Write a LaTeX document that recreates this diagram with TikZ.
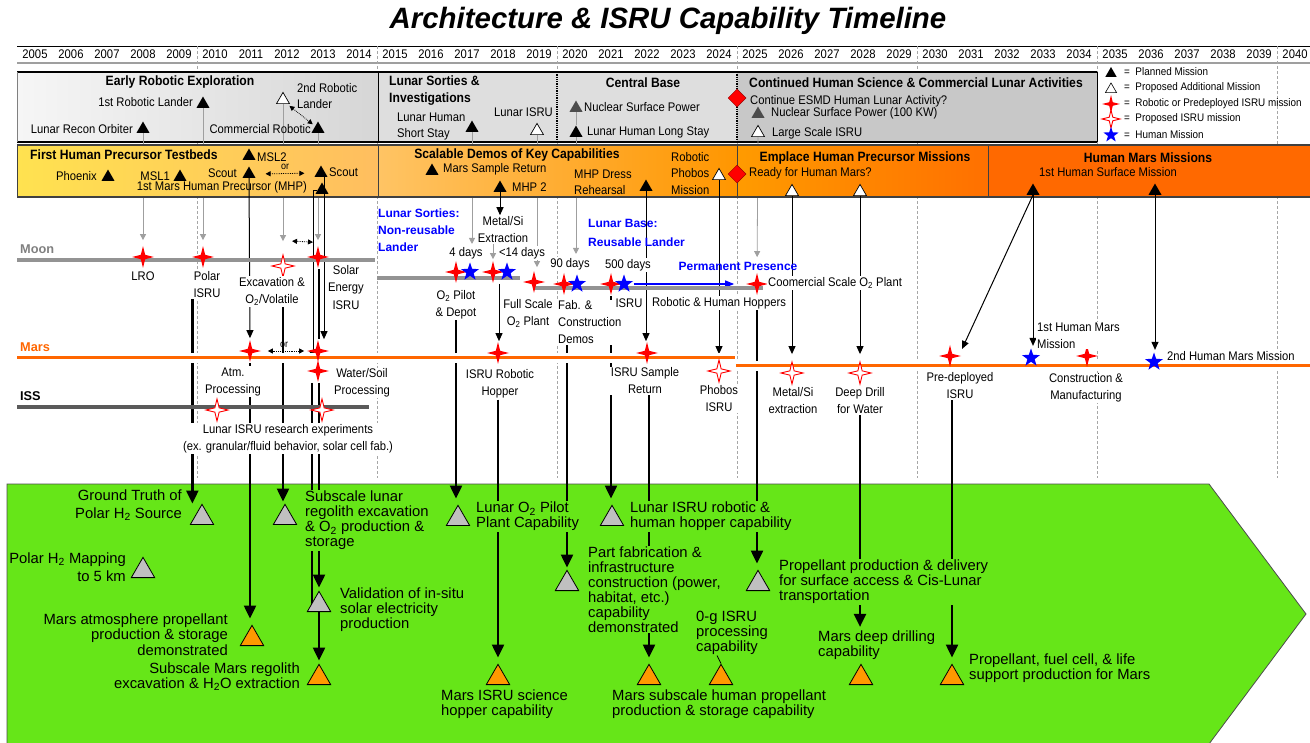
\documentclass[tikz,border=0pt]{standalone}
\usepackage{fontspec}
\setmainfont{Liberation Sans}
\newfontfamily\nar[FakeStretch=0.9]{Liberation Sans}
\usetikzlibrary{shapes.geometric,arrows.meta,calc}

\definecolor{grnfill}{RGB}{102,230,24}
\definecolor{trigray}{RGB}{192,192,192}
\definecolor{triorange}{RGB}{255,153,0}
\definecolor{marsc}{RGB}{255,102,0}
\definecolor{moonc}{RGB}{128,128,128}
\definecolor{issc}{RGB}{90,90,90}
\definecolor{humblue}{RGB}{0,0,255}
\definecolor{bandA1}{RGB}{255,226,80}
\definecolor{bandA2}{RGB}{255,190,95}
\definecolor{bandB1}{RGB}{255,196,100}
\definecolor{bandB2}{RGB}{255,150,0}
\definecolor{bandC1}{RGB}{255,155,0}
\definecolor{bandC2}{RGB}{255,112,0}
\definecolor{bandD}{RGB}{255,105,0}
\definecolor{boxA1}{RGB}{246,246,246}
\definecolor{boxA2}{RGB}{214,214,214}
\definecolor{boxB}{RGB}{222,222,222}
\definecolor{boxC}{RGB}{200,200,200}

\newcommand\fsz[2]{\fontsize{#1}{#2}\selectfont}

\pgfdeclarelayer{back}
\pgfdeclarelayer{glines}
\pgfdeclarelayer{band}
\pgfdeclarelayer{conn}
\pgfdeclarelayer{tracks}
\pgfsetlayers{back,glines,band,conn,tracks,main}

\begin{document}
\begin{tikzpicture}[x=1pt,y=-1pt,
  yr/.style={font=\nar\fsz{12.5}{13}, inner sep=0pt},
  gridline/.style={gray!70, densely dashed, line width=0.6pt},
  bandttl/.style={font=\nar\bfseries\fsz{13.5}{17}, inner sep=0pt, align=left},
  bandtxt/.style={font=\nar\fsz{12.5}{16}, inner sep=0pt, align=left},
  midtxt/.style={font=\nar\fsz{12.5}{17}, fill=white, inner sep=1pt, align=center},
  bluetxt/.style={font=\bfseries\fsz{12}{17}, text=humblue, inner sep=0pt, align=left},
  keytxt/.style={font=\nar\fsz{11}{12}, inner sep=0pt, anchor=west},
  grntxt/.style={font=\fsz{14.8}{15}, fill=grnfill, inner sep=1pt, align=left},
  trackttl/.style={font=\bfseries\fsz{12.75}{13}, inner sep=0pt, anchor=west},
  mtri/.style={regular polygon, regular polygon sides=3, fill=black, inner sep=0pt, minimum size=15pt, anchor=south},
  htri/.style={mtri, fill=white, draw=black, line width=0.7pt},
  dtri/.style={mtri, fill=black!70},
  gtri/.style={regular polygon, regular polygon sides=3, inner sep=0pt, minimum size=27pt, anchor=south, draw=black, line width=0.8pt, fill=trigray},
  otri/.style={gtri, fill=triorange},
  rstar/.style={star, star points=4, star point ratio=3.6, minimum size=22pt, inner sep=0pt, fill=red},
  hstar/.style={rstar, fill=white, draw=red, line width=0.9pt},
  bstar/.style={star, star points=5, star point ratio=2.5, minimum size=19pt, inner sep=0pt, fill=humblue},
  redd/.style={diamond, fill=red, draw=red!60!black, line width=0.5pt, minimum size=18pt, inner sep=0pt},
  grline/.style={draw=gray!75, line width=0.8pt},
  grarr/.style={grline, -{Triangle[length=6pt,width=6pt]}},
  blarr/.style={draw=black, line width=1pt, -{Triangle[length=8pt,width=7pt]}},
  thk/.style={draw=black, line width=2.3pt},
  thkarr/.style={thk, -{Triangle[length=13pt,width=12pt]}},
  dblarr/.style={draw=black, densely dotted, line width=0.8pt, {Triangle[length=5pt,width=5pt]}-{Triangle[length=5pt,width=5pt]}},
]
\useasboundingbox (0,0) rectangle (1310,743);

% ---------------- title and year scale
\node[font=\bfseries\itshape\fsz{29.4}{30}] (title) at (668,21) {Architecture \& ISRU Capability Timeline};
\foreach \i in {0,...,35}{
  \pgfmathtruncatemacro\yy{2005+\i}
  \node[yr] (y\yy) at ({35+36*\i},54) {\yy};
}
\begin{pgfonlayer}{back}
  \draw[line width=0.6pt] (17,46) -- (1310,46);
  \draw[gray!75, line width=2.5pt] (17,63) -- (1310,63);
  \foreach \gx in {197,377,557,737,917,1097,1277}
    \draw[gridline] (\gx,46) -- (\gx,478);
  % upper band: exploration phases
  \shade[left color=boxA1, right color=boxA2] (17,72) rectangle (378,142);
  \fill[boxB] (378,72) rectangle (737,142);
  \fill[boxC] (737,72) rectangle (1097,142);
  \draw[line width=1.3pt] (17,72) -- (1097,72) (17,142) -- (1097,142);
  \draw[line width=0.8pt] (1097,72) -- (1097,142);
  \draw[gray, line width=0.6pt] (17,72) -- (17,142);
  \draw[line width=1pt] (378,72) -- (378,142);
  \draw[densely dotted, line width=1.3pt] (557,72) -- (557,142) (737,72) -- (737,142);
  % capability region
  \draw[black!70, line width=0.8pt, fill=grnfill] (7,484) -- (1209,484) -- (1306,614) -- (1209,744) -- (7,744) -- cycle;
\end{pgfonlayer}

% ---------------- lower band: Mars precursor phases
\begin{pgfonlayer}{band}
  \shade[left color=bandA1, right color=bandA2] (17,145) rectangle (378,197);
  \shade[left color=bandB1, right color=bandB2] (378,145) rectangle (737,197);
  \shade[left color=bandC1, right color=bandC2] (737,145) rectangle (988,197);
  \fill[bandD] (988,145) rectangle (1310,197);
  \draw[gray!50!black, line width=1.1pt] (17,145) -- (1310,145) (17,197) -- (1310,197);
  \draw[gray!50!black, line width=0.8pt] (17,145) -- (17,197) (378,145) -- (378,197) (737,145) -- (737,197) (988,145) -- (988,197);
\end{pgfonlayer}

% ---------------- upper band contents
\node[bandttl] (ttlera) at (180,82) {Early Robotic Exploration};
\node[mtri] (trl1) at (203,108) {};
\node[bandtxt, anchor=east] (lrl1) at (193,102) {1st Robotic Lander};
\node[mtri] (tlro) at (143,133) {};
\node[bandtxt, anchor=east] (llro) at (133,129) {Lunar Recon Orbiter};
\node[htri] (trl2) at (283,104) {};
\node[bandtxt, anchor=west] (lrl2) at (297,96) {2nd Robotic\\Lander};
\node[mtri] (tcom) at (318,133) {};
\node[bandtxt, anchor=east] (lcom) at (311,129) {Commercial Robotic};

\node[bandttl, anchor=west] (ttlsort) at (389,90.5) {Lunar Sorties \&\\Investigations};
\node[bandtxt, anchor=west] (lss) at (397,126) {Lunar Human\\Short Stay};
\node[mtri] (tss) at (472,132) {};
\node[bandtxt, anchor=east] (llisru) at (553,112) {Lunar ISRU};
\node[htri] (tlisru) at (537,135) {};
\node[bandttl] (ttlcb) at (643,83) {Central Base};
\node[dtri] (tnsp) at (576,112) {};
\node[bandtxt, anchor=west] (lnsp) at (584,107) {Nuclear Surface Power};
\node[mtri] (tls) at (576,137) {};
\node[bandtxt, anchor=west] (lls) at (587,132) {Lunar Human Long Stay};
\node[redd] (dmoon) at (737,98) {};

\node[bandttl] (ttlcont) at (916,83) {Continued Human Science \& Commercial Lunar Activities};
\node[bandtxt, anchor=west] (lesmd) at (750,101) {Continue ESMD Human Lunar Activity?};
\node[dtri] (tnsp2) at (758,118) {};
\node[bandtxt, anchor=west] (lnsp2) at (771,113) {Nuclear Surface Power (100 KW)};
\node[htri] (tlsi) at (758,137) {};
\node[bandtxt, anchor=west] (llsi) at (772,133) {Large Scale ISRU};

% key
\node[mtri, minimum size=13pt] (k1) at (1111,77) {};
\node[keytxt] (kt1) at (1124,72) {=\ \ Planned Mission};
\node[htri, minimum size=13pt, line width=0.6pt] (k2) at (1111,93) {};
\node[keytxt] (kt2) at (1124,88) {=\ \ Proposed Additional Mission};
\node[rstar, minimum size=18pt] (k3) at (1111,104) {};
\node[keytxt] (kt3) at (1124,104) {=\ \ Robotic or Predeployed ISRU mission};
\node[hstar, minimum size=18pt] (k4) at (1111,119) {};
\node[keytxt] (kt4) at (1124,119) {=\ \ Proposed ISRU mission};
\node[bstar, minimum size=16pt] (k5) at (1111,135) {};
\node[keytxt] (kt5) at (1124,135) {=\ \ Human Mission};

% ---------------- lower band contents
\node[bandttl, anchor=west] (ttlfhp) at (30,155) {First Human Precursor Testbeds};
\node[mtri] (tmsl2) at (249,160) {};
\node[bandtxt, anchor=west] (lmsl2) at (257,157) {MSL2};
\node[bandtxt, anchor=east] (lphx) at (97,176) {Phoenix};
\node[mtri] (tphx) at (108,181) {};
\node[bandtxt, anchor=east] (lmsl1) at (170,176) {MSL1};
\node[mtri] (tmsl1) at (180,181) {};
\node[bandtxt, anchor=east] (lsc1) at (237,173) {Scout};
\node[mtri] (tsc1) at (249,178) {};
\node[mtri] (tsc2) at (321,177) {};
\node[bandtxt, anchor=west] (lsc2) at (329,172) {Scout};
\node[bandtxt, anchor=east] (lmhp) at (307,187) {1st Mars Human Precursor (MHP)};
\node[mtri] (tmhp) at (322,194) {};
\node[font=\nar\fsz{10}{10}, inner sep=0pt] (lor1) at (285,167) {or};
\draw[dblarr, shorten <=12pt, shorten >=12pt] (tsc1.east) -- (tsc2.west);

\node[bandttl] (ttlsdk) at (517,155) {Scalable Demos of Key Capabilities};
\node[mtri] (tmsr) at (432,175) {};
\node[bandtxt, anchor=west] (lmsr) at (443,169) {Mars Sample Return};
\node[mtri] (tmhp2) at (500,192) {};
\node[bandtxt, anchor=west] (lmhp2) at (512,187) {MHP 2};
\node[bandtxt, anchor=west] (lmdr) at (574,182) {MHP Dress\\Rehearsal};
\node[mtri] (tmdr) at (646,191) {};
\node[bandtxt, anchor=west, font=\nar\fsz{12.5}{16.5}] (lphm) at (671,173.5) {Robotic\\Phobos\\Mission};
\node[htri] (tphm) at (719,180) {};
\node[redd] (dmars) at (737,174) {};

\node[bandttl] (ttlemp) at (865,158) {Emplace Human Precursor Missions};
\node[bandtxt, anchor=west] (lrhm) at (749,173) {Ready for Human Mars?};
\node[htri] (tem1) at (792,196) {};
\node[htri] (tem2) at (860,196) {};
\node[bandttl] (ttlhmm) at (1148,158) {Human Mars Missions};
\node[bandtxt] (lhsm) at (1108,172) {1st Human Surface Mission};
\node[mtri] (thm1) at (1033,195) {};
\node[mtri] (thm2) at (1155,195) {};

% ---------------- destinations: Moon, Mars, ISS
\node[trackttl, text=moonc] (lmoon) at (20,249) {Moon};
\node[trackttl, text=marsc] (lmars) at (20,347) {Mars};
\node[trackttl, text=black] (liss) at (20,396) {ISS};

\node[rstar] (slro) at (143,257) {};
\node[rstar] (spol) at (203,257) {};
\node[hstar] (sexc) at (283,266) {};
\node[rstar] (ssol) at (318,257) {};
\node[rstar] (satm) at (250,351) {};
\node[rstar] (swat1) at (318,351) {};
\node[rstar] (swat2) at (318,371) {};
\node[hstar] (siss1) at (217,410) {};
\node[hstar] (siss2) at (322,410) {};

\node[midtxt] (llro2) at (143,276) {LRO};
\node[midtxt] (lpol) at (207,284.5) {Polar\\ISRU};
\node[midtxt] (lexc) at (272,291.5) {Excavation \&\\O\textsubscript{2}/Volatile};
\node[midtxt, font=\nar\fsz{12.5}{17.5}] (lsol) at (346,287.5) {Solar\\Energy\\ISRU};
\node[midtxt] (latm) at (233,381.5) {Atm.\\Processing};
\node[midtxt] (lwat) at (362,383) {Water/Soil\\Processing};
\node[midtxt] (liss2) at (288,438.5) {Lunar ISRU research experiments\\(ex. granular/fluid behavior, solar cell fab.)};
\node[font=\nar\fsz{10}{10}, inner sep=0pt] (lor2) at (284,345) {or};

\node[bluetxt, anchor=west] (lsortie) at (378,230) {Lunar Sorties:\\Non-reusable\\Lander};
\node[midtxt] (lmetal) at (503,229.5) {Metal/Si\\Extraction};
\node[midtxt] (l4d) at (466,253) {4 days};
\node[midtxt] (l14d) at (522,253) {<14 days};
\node[rstar] (s4a) at (456,272) {};
\node[bstar] (s4b) at (470,272) {};
\node[rstar] (s14a) at (493,272) {};
\node[bstar] (s14b) at (507,272) {};
\node[rstar] (sfsp) at (534,282) {};
\node[midtxt] (l90d) at (570,264) {90 days};
\node[rstar] (s90a) at (564,284) {};
\node[bstar] (s90b) at (577,284) {};
\node[midtxt] (l500d) at (628,265) {500 days};
\node[rstar] (s500a) at (611,284) {};
\node[bstar] (s500b) at (624,284) {};
\node[bluetxt, anchor=west, font=\bfseries\fsz{12}{19}] (lbase) at (588,232.5) {Lunar Base:\\Reusable Lander};
\node[bluetxt] (lperm) at (738,266) {Permanent Presence};
\node[rstar] (scom) at (757,284) {};
\node[midtxt, anchor=west] (lcom2) at (767,283) {Coomercial Scale O\textsubscript{2} Plant};
\node[midtxt] (lo2p) at (456,304.5) {O\textsubscript{2} Pilot\\\& Depot};
\node[midtxt] (lfsp) at (528,313.5) {Full Scale\\O\textsubscript{2} Plant};
\node[midtxt, align=left, anchor=west] (lfab) at (557,322.5) {Fab. \&\\Construction\\Demos};
\node[midtxt] (lisru5) at (629,303) {ISRU};
\node[midtxt] (lhop) at (719,303) {Robotic \& Human Hoppers};
\node[rstar] (shop) at (498,353) {};
\node[rstar] (smsr) at (647,353) {};
\node[hstar] (sphb) at (719,371) {};
\node[midtxt] (lhop2) at (500,384) {ISRU Robotic\\Hopper};
\node[midtxt] (lmsr2) at (645,381) {ISRU Sample\\Return};
\node[midtxt] (lphb) at (719,399) {Phobos\\ISRU};

\node[hstar] (smet) at (792,373) {};
\node[hstar] (sddw) at (860,373) {};
\node[rstar] (spre) at (950,356) {};
\node[bstar] (sh1) at (1031,358) {};
\node[rstar] (scm) at (1087,356) {};
\node[bstar] (sh2) at (1154,362) {};
\node[midtxt] (lmet) at (793,400.5) {Metal/Si\\extraction};
\node[midtxt] (lddw) at (860,400.5) {Deep Drill\\for Water};
\node[midtxt] (lpre) at (960,385.5) {Pre-deployed\\ISRU};
\node[midtxt, align=left, anchor=west] (lh1) at (1036,335.5) {1st Human Mars\\Mission};
\node[midtxt] (lcm) at (1086,388) {Construction \&\\Manufacturing};
\node[midtxt, anchor=west] (lh2) at (1166,356) {2nd Human Mars Mission};
\coordinate (pretip) at (962,349);

% ---------------- capabilities
\node[gtri] (gt1) at (202,525) {};
\node[gtri] (gt2) at (143,578) {};
\node[gtri] (gt3) at (285,525) {};
\node[gtri] (gt4) at (319,612) {};
\node[gtri] (gt5) at (458,526) {};
\node[gtri] (gt6) at (567,591) {};
\node[gtri] (gt7) at (612,526) {};
\node[gtri] (gt8) at (758,591) {};
\node[otri] (ot1) at (252,646) {};
\node[otri] (ot2) at (319,685) {};
\node[otri] (ot3) at (498,685) {};
\node[otri] (ot4) at (649,685) {};
\node[otri] (ot5) at (721,685) {};
\node[otri] (ot6) at (861,685) {};
\node[otri] (ot7) at (952,685) {};

\node[grntxt, align=right, anchor=east, font=\fsz{14.8}{18}] (g1) at (183,505) {Ground Truth of\\Polar H\textsubscript{2} Source};
\node[grntxt, align=right, anchor=east, font=\fsz{14.8}{18}] (g2) at (127,567) {Polar H\textsubscript{2} Mapping\\to 5 km};
\node[grntxt, anchor=west] (g3) at (304,520.5) {Subscale lunar\\regolith excavation\\\& O\textsubscript{2} production \&\\storage};
\node[grntxt, anchor=west] (g4) at (339,610) {Validation of in-situ\\solar electricity\\production};
\node[grntxt, align=right, anchor=east, font=\fsz{14.8}{15.5}] (g5) at (229,634.5) {Mars atmosphere propellant\\production \& storage\\demonstrated};
\node[grntxt, align=right, anchor=east] (g6) at (301,676.5) {Subscale Mars regolith\\excavation \& H\textsubscript{2}O extraction};
\node[grntxt, anchor=west] (g7) at (475,516.5) {Lunar O\textsubscript{2} Pilot\\Plant Capability};
\node[grntxt, anchor=west] (g8) at (440,704.5) {Mars ISRU science\\hopper capability};
\node[grntxt, anchor=west] (g9) at (587,589.5) {Part fabrication \&\\infrastructure\\construction (power,\\habitat, etc.)\\capability\\demonstrated};
\node[grntxt, anchor=west] (g10) at (629,516.5) {Lunar ISRU robotic \&\\human hopper capability};
\node[grntxt, anchor=west] (g11) at (778,582) {Propellant production \& delivery\\for surface access \& Cis-Lunar\\transportation};
\node[grntxt, anchor=west] (g12) at (695,632.5) {0-g ISRU\\processing\\capability};
\node[grntxt, anchor=west] (g13) at (611,704.5) {Mars subscale human propellant\\production \& storage capability};
\node[grntxt, anchor=west] (g14) at (817,645.5) {Mars deep drilling\\capability};
\node[grntxt, anchor=west] (g15) at (968,668) {Propellant, fuel cell, \& life\\support production for Mars};

% ---------------- grey links from the upper band
\begin{pgfonlayer}{glines}
  \draw[grarr, shorten >=5pt] (tlro.south) -- (slro.north);
  \draw[grarr, shorten >=5pt] (trl1.south) -- (spol.north);
  \draw[grarr, shorten >=12pt] (trl2.south) -- (sexc.north);
  \draw[grarr, shorten >=5pt] (tcom.south) -- (ssol.north);
  \draw[grarr, shorten >=2pt] (tss.south) -- (tss.south |- l4d.north);
  \draw[grarr, shorten >=3pt] (tlisru.south) -- (tlisru.south |- sfsp.north);
  \draw[grline] (tnsp.south) -- (tls.north);
  \draw[grarr, shorten >=3pt] (tls.south) -- (tls.south |- l90d.north);
  \draw[grarr, shorten >=15pt] (tlsi.south) -- (scom.north);
  \draw[grarr, shorten >=1pt] ([xshift=-10pt]lmetal.south) -- ([xshift=-10pt]lmetal.south |- s14a.north);
\end{pgfonlayer}

% ---------------- mission links and capability links
\begin{pgfonlayer}{conn}
  \draw[blarr, shorten >=1pt] (tsc1.south) -- (satm.north);
  \draw[blarr] ([xshift=3pt]tsc2.south) -- ([xshift=3pt]tsc2.south |- swat1.north);
  \draw[blarr] (tmhp.west) -| ([xshift=-5pt]swat2.north);
  \draw[thk] ([xshift=1pt]ssol.south) -- ([xshift=1pt]ssol.south |- swat1.north);
  \draw[blarr] (tmhp2.south) -- (tmhp2.south |- lmetal.north);
  \draw[blarr] ([xshift=6pt]s14a.south) -- ([xshift=6pt]s14a.south |- shop.north);
  \draw[blarr] (tmdr.south) -- (tmdr.south |- smsr.north);
  \draw[blarr, shorten >=4pt] (tphm.south) -- (tphm.south |- sphb.north);
  \draw[blarr, shorten >=6pt] (tem1.south) -- (smet.north);
  \draw[blarr, shorten >=6pt] (tem2.south) -- (sddw.north);
  \draw[blarr] (thm1.south) -- (pretip);
  \draw[blarr, shorten >=2pt] (thm1.south) -- (thm1.south |- sh1.north);
  \draw[blarr, shorten >=2pt] (thm2.south) -- (thm2.south |- sh2.north);
  \draw[humblue, line width=1.3pt, -{Triangle[length=9pt,width=7pt]}, shorten <=4pt, shorten >=11pt] (s500b.east) -- (scom.west);

  \draw[thkarr] (lpol.south west) -- (lpol.south west |- gt1.north);
  \draw[thkarr, shorten >=6pt] (satm.south) -- (satm.south |- ot1.north);
  \draw[thkarr, shorten >=2pt] (lexc.south -| sexc.center) -- (gt3.north -| sexc.center);
  \draw[line width=1.4pt] ([xshift=-6pt]swat2.south) -- ([xshift=-6pt]swat2.south |- gt4.west);
  \draw[thkarr, shorten >=3pt] (gt4.north |- swat2.south) -- (gt4.north);
  \draw[thkarr, shorten >=3pt] (gt4.south) -- (ot2.north);
  \draw[thkarr, shorten >=6pt] (lo2p.south) -- (lo2p.south |- gt5.north);
  \draw[thkarr, shorten >=6pt] (ot3.north |- lhop2.south) -- (ot3.north);
  \draw[thkarr, shorten >=2pt] (gt6.north |- lfab.south) -- (gt6.north);
  \draw[thkarr, shorten >=6pt] (s500a.south) -- (s500a.south |- gt7.north);
  \draw[thkarr, shorten >=6pt] (ot4.north |- lmsr2.south) -- (ot4.north);
  \draw[thkarr, shorten >=6pt] (scom.south) -- (scom.south |- gt8.north);
  \draw[thkarr, shorten >=3pt] (lddw.south) -- (lddw.south |- g14.north);
  \draw[thkarr, shorten >=6pt] (ot7.north |- lpre.south) -- (ot7.north);

  \draw[line width=0.8pt] ($(ot5.north)+(-4,-8)$) -- (ot5.north);
  \draw[line width=0.8pt] ($(ot4.north)+(-11,20)$) -- ($(ot4.north)+(-5,13)$);
\end{pgfonlayer}

% ---------------- destination tracks
\begin{pgfonlayer}{tracks}
  \draw[moonc!85, line width=3.5pt] (17,260) -- (375,260) (377,278) -- (520,278) (535,288) -- (763,288);
  \draw[white, line width=10pt] (17,358) -- (735,358) (736,366) -- (1310,366);
  \draw[marsc, line width=3pt] (17,358) -- (735,358) (736,366) -- (1310,366);
  \draw[issc, line width=3.5pt] (17,407) -- (369,407);
\end{pgfonlayer}

% dotted alternatives
\draw[dblarr, shorten <=3pt, shorten >=3pt] (trl2.south east) -- (tcom.north west);
\draw[dblarr] ($(sexc.north)+(9,-12)$) -- ($(ssol.north)+(-5,-3)$);
\draw[dblarr, shorten <=6pt, shorten >=2pt] (satm.east) -- (swat1.west);
\end{tikzpicture}
\end{document}
